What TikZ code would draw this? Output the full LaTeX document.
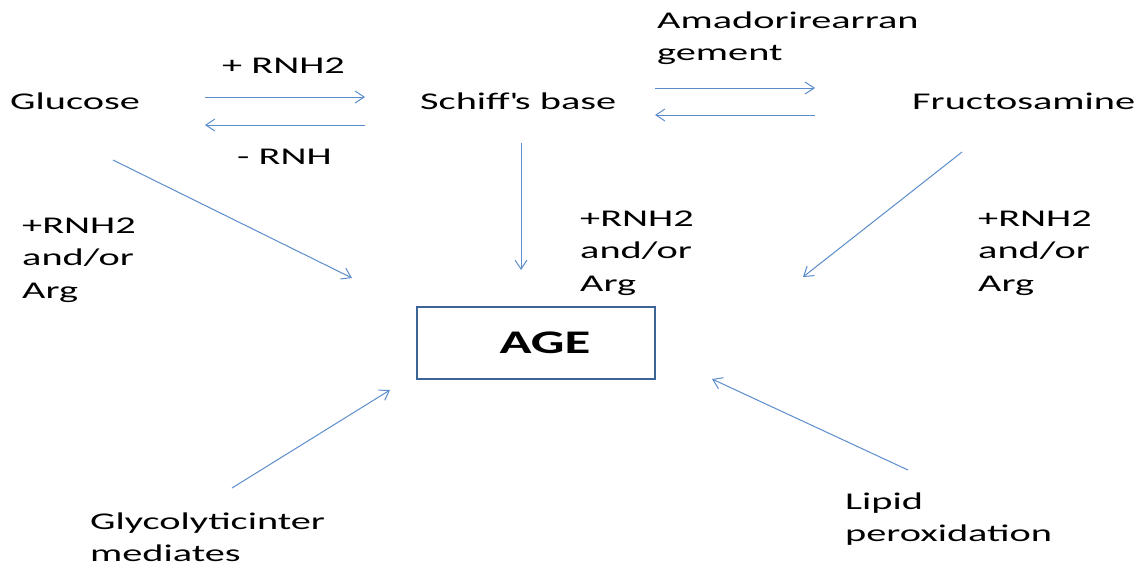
\documentclass[tikz,border=0pt]{standalone}
\usepackage{fontspec}
\setmainfont[FakeStretch=1.68]{Carlito}
\newfontfamily\agefont[FakeStretch=1.6]{Carlito}
\usetikzlibrary{arrows.meta}
\definecolor{arr}{HTML}{5B8CCB}
\definecolor{boxc}{HTML}{3C6496}
\tikzset{
  lbl/.style={anchor=west, inner sep=0pt, font=\fontsize{24}{32.5}\selectfont, align=left},
  conn/.style={draw=arr, line width=1pt, -{Straight Barb[length=9pt,width=12pt,line width=1pt]}},
}
\begin{document}
\begin{tikzpicture}[x=1pt,y=-1pt]
\useasboundingbox (0,0) rectangle (1139,566);
\node[lbl] (glu) at (10,101) {Glucose};
\node[lbl] (schiff) at (420,101) {Schiff\textquotesingle s base};
\node[lbl] (fru) at (912,101) {Fructosamine};
\node[lbl] (p1) at (222,66) {+ RNH2};
\node[lbl] (m1) at (237,157) {- RNH};
\node[lbl] (am) at (657,38) {Amadorirearran\\gement};
\node[lbl] (a1) at (22,260) {+RNH2\\and/or\\Arg};
\node[lbl] (a2) at (580,253) {+RNH2\\and/or\\Arg};
\node[lbl] (a3) at (978,253) {+RNH2\\and/or\\Arg};
\node[lbl] (gly) at (90,537) {Glycolyticinter\\mediates};
\node[lbl] (lip) at (845,519) {Lipid\\peroxidation};
\node[draw=boxc, line width=2.5pt, minimum width=238pt, minimum height=72pt] (age) at (536,343) {};
\node[inner sep=0pt, font=\agefont\fontsize{33}{36}\selectfont\bfseries] (agelbl) at (545,343) {AGE};
\coordinate (g1s) at (205,97); \coordinate (g1e) at (365,97);
\coordinate (g2s) at (365,125); \coordinate (g2e) at (205,125);
\coordinate (s1s) at (655,88); \coordinate (s1e) at (815,88);
\coordinate (s2s) at (815,115); \coordinate (s2e) at (655,115);
\coordinate (gla) at (113,160); \coordinate (glb) at (352,278);
\coordinate (sca) at (521,143); \coordinate (scb) at (521,270);
\coordinate (fra) at (962,152); \coordinate (frb) at (803,277);
\coordinate (gya) at (232,488); \coordinate (gyb) at (390,390);
\coordinate (lia) at (908,470); \coordinate (lib) at (712,379);
\draw[conn] (g1s) -- (g1e);
\draw[conn] (g2s) -- (g2e);
\draw[conn] (s1s) -- (s1e);
\draw[conn] (s2s) -- (s2e);
\draw[conn] (gla) -- (glb);
\draw[conn] (sca) -- (scb);
\draw[conn] (fra) -- (frb);
\draw[conn] (gya) -- (gyb);
\draw[conn] (lia) -- (lib);
\end{tikzpicture}
\end{document}
